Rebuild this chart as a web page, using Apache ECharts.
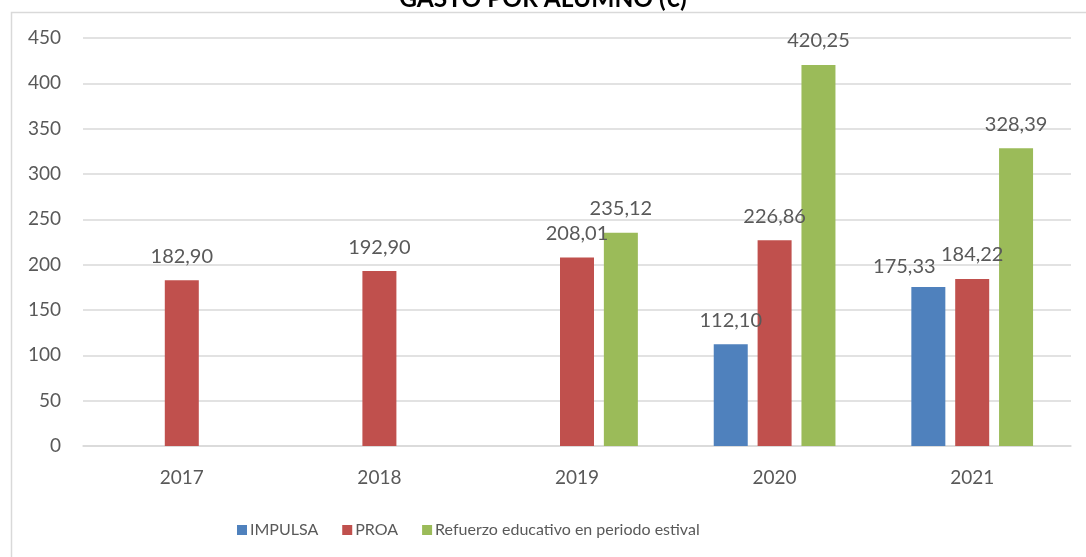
<!DOCTYPE html>
<html>
<head>
<meta charset="utf-8">
<script src="https://cdn.jsdelivr.net/npm/echarts@6/dist/echarts.min.js"></script>
<style>
  html, body { margin: 0; padding: 0; background: #ffffff; }
  #chart { width: 1086px; height: 557px; }
</style>
</head>
<body>
<div id="chart"></div>
<script>
// Gasto por alumno (€) por programa y año
const years = ['2017', '2018', '2019', '2020', '2021'];
const impulsa = [null, null, null, 112.10, 175.33];
const proa = [182.90, 192.90, 208.01, 226.86, 184.22];
const refuerzo = [null, null, 235.12, 420.25, 328.39];
const seriesNames = ['IMPULSA', 'PROA', 'Refuerzo educativo en periodo estival'];
const yTicks = [0, 50, 100, 150, 200, 250, 300, 350, 400, 450];

const FONT = 'Lato, "Open Sans", sans-serif';
const GREY_TEXT = '#595959';
const GRID_LINE = '#d9d9d9';

const fmt = v => v.toFixed(2).replace('.', ',');

const labelBase = {
  show: true,
  position: 'top',
  distance: 14,
  color: GREY_TEXT,
  fontFamily: FONT,
  fontSize: 20,
  formatter: p => fmt(p.value)
};

function barSeries(name, values, color, shifted) {
  return {
    name: name,
    type: 'bar',
    barWidth: 34,
    barGap: '29%',
    itemStyle: { color: color },
    label: labelBase,
    data: values.map((v, i) => {
      if (v === null) return null;
      if (shifted && shifted[i]) {
        return { value: v, label: { offset: shifted[i] } };
      }
      return v;
    })
  };
}

const chart = echarts.init(document.getElementById('chart'), null, { renderer: 'canvas' });

chart.setOption({
  animation: false,
  backgroundColor: '#ffffff',
  title: {
    text: 'GASTO POR ALUMNO (€)',
    left: 'center',
    top: -18,
    textStyle: { fontFamily: FONT, fontSize: 24.5, fontWeight: 'bold', color: '#000000' }
  },
  graphic: [{
    type: 'rect',
    left: 9,
    top: 10,
    shape: { width: 1200, height: 700 },
    style: { fill: 'none', stroke: '#d9d9d9', lineWidth: 1.5 },
    silent: true,
    z: -1
  }],
  grid: { left: 83, right: 15, top: 38, bottom: 111, containLabel: false },
  legend: {
    data: seriesNames,
    left: 232,
    top: 517,
    itemWidth: 10,
    itemHeight: 10,
    itemGap: 24,
    icon: 'rect',
    textStyle: { fontFamily: FONT, fontSize: 16, color: GREY_TEXT, padding: [0, 0, 0, -2] }
  },
  xAxis: {
    type: 'category',
    data: years,
    axisTick: { show: false },
    axisLine: { lineStyle: { color: GRID_LINE, width: 1.5 } },
    axisLabel: { color: GREY_TEXT, fontFamily: FONT, fontSize: 19, margin: 22 }
  },
  yAxis: {
    type: 'value',
    min: yTicks[0],
    max: yTicks[yTicks.length - 1],
    interval: 50,
    axisLine: { show: false },
    axisTick: { show: false },
    splitLine: { lineStyle: { color: GRID_LINE, width: 1.5 } },
    axisLabel: { color: GREY_TEXT, fontFamily: FONT, fontSize: 19, margin: 22 }
  },
  series: [
    barSeries(seriesNames[0], impulsa, '#4F81BD', { 4: [-24, 4] }),
    barSeries(seriesNames[1], proa, '#C0504D'),
    barSeries(seriesNames[2], refuerzo, '#9BBB59')
  ]
});
</script>
</body>
</html>
